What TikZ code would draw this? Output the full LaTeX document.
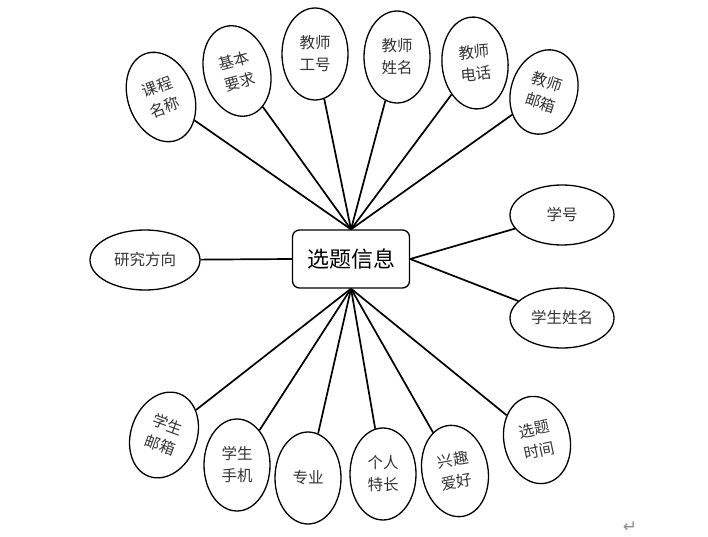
\documentclass[tikz,border=0pt]{standalone}
\usepackage{fontspec}
\newfontfamily\cjk{Noto Sans CJK SC}
\newfontfamily\dejavu{DejaVu Sans}
\usetikzlibrary{shapes.geometric}
\begin{document}
\begin{tikzpicture}[x=1pt,y=-1pt,
  attr/.style={draw=black,line width=1.3pt,ellipse,inner sep=0pt,font=\cjk\fontsize{15.5}{22}\selectfont,align=center,text=black!80},
  tall/.style={attr,minimum width=66pt,minimum height=92pt},
  wide/.style={attr,minimum width=104pt,minimum height=60pt},
  link/.style={draw=black,line width=1.7pt}]
\useasboundingbox (0,0) rectangle (708,537);
\node[draw,line width=1.3pt,rounded corners=7pt,minimum width=117pt,minimum height=58pt,font=\cjk\fontsize{22}{26}\selectfont] (c) at (351,259) {选题信息};
\node[tall,rotate=20] (kc) at (161,97) {课程\\名称};
\node[tall,rotate=15] (jb) at (237,71) {基本\\要求};
\node[tall] (gh) at (315,54) {教师\\工号};
\node[tall] (xm) at (397,57) {教师\\姓名};
\node[tall,rotate=5] (dh) at (475,63) {教师\\电话};
\node[tall,rotate=-18,minimum height=86pt] (yx) at (544,92) {教师\\邮箱};
\node[wide] (xh) at (562,215) {学号};
\node[wide] (xsm) at (562,318) {学生姓名};
\node[wide,minimum width=110pt] (yj) at (145,260) {研究方向};
\node[tall,rotate=-20,minimum height=88pt] (sy) at (164,435) {学生\\邮箱};
\node[tall] (sj) at (237,465) {学生\\手机};
\node[tall] (zy) at (308,478) {专业};
\node[tall] (gr) at (383,474) {个人\\特长};
\node[tall,rotate=10] (xq) at (455,471) {兴趣\\爱好};
\node[tall,rotate=12,minimum height=88pt] (sjj) at (537,440) {选题\\时间};
\foreach \n in {kc,jb,gh,xm,dh,yx} \draw[link] (\n) -- (c.north);
\foreach \n in {sy,sj,zy,gr,xq,sjj} \draw[link] (\n) -- (c.south);
\draw[link] (yj) -- (c.west);
\draw[link] (xh) -- (c.east);
\draw[link] (xsm) -- (c.east);
\node[font=\dejavu\fontsize{17}{17}\selectfont,text=black!45,inner sep=0pt] (ret) at (630,527) {↵};
\end{tikzpicture}
\end{document}
